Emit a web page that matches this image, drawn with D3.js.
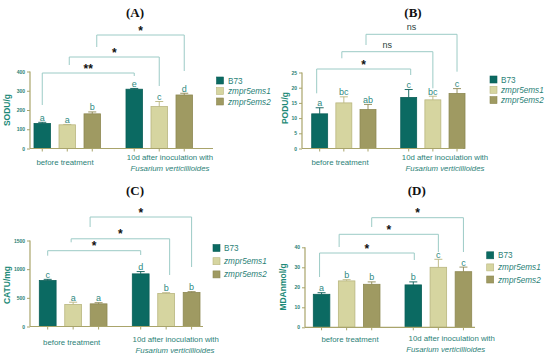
<!DOCTYPE html>
<html>
<head>
<meta charset="utf-8" />
<title></title>
<style>
  body { margin: 0; background: #fff; }
  text { font-family: "Liberation Sans", Arial, sans-serif; }
  .title { font-family: "Liberation Serif", "Times New Roman", serif; font-size: 13px; font-weight: bold; fill: #111; }
  .tick { font-size: 5px; font-weight: bold; fill: #2b7f77; }
  .ylab { font-size: 8.5px; font-weight: bold; fill: #1d8a78; }
  .xlab { font-size: 7.8px; fill: #2b7f77; }
  .leg { font-size: 8.2px; fill: #2b7f77; }
  .let { font-size: 9px; fill: #2f8a82; }
  .sig { font-weight: bold; fill: #111; }
</style>
</head>
<body>
<script src="https://cdn.jsdelivr.net/npm/d3@7"></script>
<script>
var width = 550, height = 357;

// data
var groups = ["before treatment", "10d after inoculation"];
var genotypes = ["B73", "zmpr5ems1", "zmpr5ems2"];

var sodMean = [130, 123, 180, 308, 218, 278];
var sodErr = [6, 2, 10, 4, 26, 9];
var sodLetters = ["a", "a", "b", "e", "c", "d"];
var sodSig = ["**", "*", "*"];
var sodTicks = [0, 100, 200, 300, 400];

var podMean = [11.4, 15.0, 12.8, 16.8, 16.0, 18.1];
var podErr = [2.0, 2.0, 1.7, 2.6, 1.2, 1.6];
var podLetters = ["a", "bc", "ab", "c", "bc", "c"];
var podSig = ["*", "ns", "ns"];
var podTicks = [0, 5, 10, 15, 20, 25];

var catMean = [802, 384, 395, 918, 575, 593];
var catErr = [20, 40, 20, 40, 15, 15];
var catLetters = ["c", "a", "a", "d", "b", "b"];
var catSig = ["*", "*", "*"];
var catTicks = [0, 500, 1000, 1500];

var mdaMean = [16.5, 23.2, 21.5, 21.2, 30.0, 27.8];
var mdaErr = [0.8, 0.6, 1.2, 1.5, 4.0, 2.3];
var mdaLetters = ["a", "b", "b", "b", "c", "c"];
var mdaSig = ["*", "*", "*"];
var mdaTicks = [0, 10, 20, 30, 40];

// comparisons: before vs after for each genotype
var pairs = [[0, 3], [1, 4], [2, 5]];

var fill = { "B73": "#0b6a62", "zmpr5ems1": "#d6d5a0", "zmpr5ems2": "#9f9a62" };
var edge = { "B73": "#0a5f58", "zmpr5ems1": "#b9b67f", "zmpr5ems2": "#8d8852" };
var axisCol = "#a9a46b", brCol = "#9ccbc6";

var panels = [
  { title: "(A)", tx: 135, ty: 16.5, ylabel: "SODU/g", ylx: 7, yly: 110,
    mean: sodMean, err: sodErr, letters: sodLetters, sig: sodSig, ticks: sodTicks,
    ax: 30, axEnd: 213, y0: 148.5, y1: 71.5, range: [34, 192.5], pad: 0.277,
    lvl: [73, 57, 35], lEnd: [105, 65, 47], rEnd: [76, 86, 71], ldx: [0, 2, 4.5], rdx: [0, 0, 0],
    leg: [216.5, 80.5, 10.5, 228],
    xl: [[65, 165], [170, 160], [170, 171]] },
  { title: "(B)", tx: 413, ty: 16.5, ylabel: "PODU/g", ylx: 285, yly: 108,
    mean: podMean, err: podErr, letters: podLetters, sig: podSig, ticks: podTicks,
    ax: 302, axEnd: 463, y0: 148.5, y1: 72.5, range: [311.7, 465], pad: 0.278,
    lvl: [69, 51.7, 34.3], lEnd: [93.3, 58.3, 45], rEnd: [75, 88.3, 71.7], ldx: [-3, -2, -2], rdx: [2, 0, 0],
    leg: [490, 79.5, 10.3, 501],
    xl: [[340, 164.5], [445, 159.5], [445, 171]] },
  { title: "(C)", tx: 135, ty: 194.5, ylabel: "CATU/mg", ylx: 7, yly: 285,
    mean: catMean, err: catErr, letters: catLetters, sig: catSig, ticks: catTicks,
    ax: 30, axEnd: 203, y0: 326.5, y1: 240.5, range: [39.3, 200], pad: 0.272,
    lvl: [250.7, 238.8, 217], lEnd: [255.7, 242.3, 227], rEnd: [255, 275, 267], ldx: [0, -2, -8.5], rdx: [0, 3.5, 0],
    leg: [213, 248, 13.2, 224],
    xl: [[71.7, 345], [175.7, 342], [175, 353]] },
  { title: "(D)", tx: 416.7, ty: 194.5, ylabel: "MDAnmol/g", ylx: 283, yly: 287,
    mean: mdaMean, err: mdaErr, letters: mdaLetters, sig: mdaSig, ticks: mdaTicks,
    ax: 305, axEnd: 475, y0: 327.3, y1: 247.3, range: [313.3, 471.7], pad: 0.273,
    lvl: [253, 234.3, 217.7], lEnd: [277, 247, 227], rEnd: [260, 252, 252], ldx: [-2, -7.5, 0], rdx: [1, 0, 0],
    leg: [486.7, 255.3, 12.1, 498],
    xl: [[350, 341.5], [451.7, 340.5], [445.7, 351.5]] }
];

var svg = d3.select("body").append("svg")
    .attr("width", width)
    .attr("height", height);

panels.forEach(function(p, pi) {
  var g = svg.append("g");
  var second = pi == 2 || pi == 3;
  var afterLabel = second ? "10d after inoculation  with" : "10d after inoculation with";

  var x0 = d3.scaleBand().domain(groups).range(p.range).paddingInner(p.pad).paddingOuter(0);
  var x1 = d3.scaleBand().domain(genotypes).range([0, x0.bandwidth()]).paddingInner(0.34).paddingOuter(0);
  var y = d3.scaleLinear().domain([0, d3.max(p.ticks)]).range([p.y0, p.y1]);

  var rows = p.mean.map(function(v, i) {
    return { g: groups[Math.floor(i / 3)], k: genotypes[i % 3], v: v, e: p.err[i], l: p.letters[i] };
  });
  function cx(d) { return x0(d.g) + x1(d.k) + x1.bandwidth() / 2; }

  // title
  g.append("text").attr("class", "title").attr("x", p.tx).attr("y", p.ty)
    .attr("text-anchor", "middle").text(p.title);

  // y axis
  var yAxis = d3.axisLeft(y).tickValues(p.ticks).tickFormat(d3.format("d")).tickSize(3).tickPadding(2);
  var ya = g.append("g").attr("transform", "translate(" + p.ax + ",0)").call(yAxis);
  ya.select(".domain").attr("stroke", axisCol).attr("stroke-width", 1.2).attr("d", "M0," + p.y0 + "V" + p.y1);
  ya.selectAll(".tick line").attr("stroke", axisCol).attr("stroke-width", 1);
  ya.selectAll(".tick text").attr("class", "tick").attr("fill", null).attr("font-size", null).attr("font-family", null);
  ya.attr("font-size", null).attr("font-family", null);

  // bars
  g.selectAll(".bar").data(rows).enter().append("rect")
    .attr("x", function(d) { return x0(d.g) + x1(d.k); })
    .attr("y", function(d) { return y(d.v); })
    .attr("width", x1.bandwidth())
    .attr("height", function(d) { return y(0) - y(d.v); })
    .attr("fill", function(d) { return fill[d.k]; })
    .attr("stroke", function(d) { return edge[d.k]; })
    .attr("stroke-width", 0.8);

  // error bars (upper half)
  var eb = g.selectAll(".eb").data(rows).enter().append("g")
    .attr("stroke", function(d) { return edge[d.k]; }).attr("stroke-width", 0.9);
  eb.append("line").attr("x1", cx).attr("x2", cx)
    .attr("y1", function(d) { return y(d.v); }).attr("y2", function(d) { return y(d.v + d.e); });
  eb.append("line").attr("x1", function(d) { return cx(d) - 4; }).attr("x2", function(d) { return cx(d) + 4; })
    .attr("y1", function(d) { return y(d.v + d.e); }).attr("y2", function(d) { return y(d.v + d.e); });

  // letters
  g.selectAll(".let").data(rows).enter().append("text").attr("class", "let")
    .attr("x", cx).attr("y", function(d) { return y(d.v + d.e) - 1.5; })
    .attr("text-anchor", "middle").text(function(d) { return d.l; });

  // x axis
  g.append("line").attr("x1", p.ax).attr("x2", p.axEnd).attr("y1", p.y0).attr("y2", p.y0)
    .attr("stroke", axisCol).attr("stroke-width", 1.2);
  g.selectAll(".xt").data(rows).enter().append("line")
    .attr("x1", cx).attr("x2", cx).attr("y1", p.y0).attr("y2", p.y0 + 3)
    .attr("stroke", axisCol).attr("stroke-width", 1);

  // x labels
  g.append("text").attr("class", "xlab").attr("x", p.xl[0][0]).attr("y", p.xl[0][1])
    .attr("text-anchor", "middle").text(groups[0]);
  g.append("text").attr("class", "xlab").attr("x", p.xl[1][0]).attr("y", p.xl[1][1])
    .attr("text-anchor", "middle").text(afterLabel);
  g.append("text").attr("class", "xlab").attr("x", p.xl[2][0]).attr("y", p.xl[2][1])
    .attr("text-anchor", "middle").style("font-style", "italic").text("Fusarium verticillioides");

  // y label
  g.append("text").attr("class", "ylab")
    .attr("transform", "translate(" + (p.ylx + 3) + "," + p.yly + ") rotate(-90)")
    .attr("text-anchor", "middle").text(p.ylabel);

  // significance brackets
  pairs.forEach(function(pr, j) {
    var xa = cx(rows[pr[0]]) + p.ldx[j], xb = cx(rows[pr[1]]) + p.rdx[j];
    g.append("path")
      .attr("d", "M" + xa + "," + p.lEnd[j] + "V" + p.lvl[j] + "H" + xb + "V" + p.rEnd[j])
      .attr("fill", "none").attr("stroke", brCol).attr("stroke-width", 1);
    var s = p.sig[j];
    var isNs = s == "ns";
    g.append("text").attr("class", "sig")
      .attr("x", (xa + xb) / 2).attr("y", p.lvl[j] - (isNs ? 4 : 0.5))
      .attr("text-anchor", "middle")
      .style("font-size", isNs ? "9px" : "12px")
      .style("font-weight", isNs ? "normal" : "bold")
      .style("fill", isNs ? "#2b3f3d" : "#111")
      .text(s);
  });

  // legend
  genotypes.forEach(function(k, i) {
    var ly = p.leg[1] + i * p.leg[2];
    g.append("rect").attr("x", p.leg[0]).attr("y", ly - 3.5).attr("width", 7).attr("height", 7)
      .attr("fill", fill[k]).attr("stroke", edge[k]).attr("stroke-width", 0.6);
    g.append("text").attr("class", "leg").attr("x", p.leg[3]).attr("y", ly + 3)
      .style("font-style", i == 0 ? "normal" : "italic").text(k);
  });
});
</script>
</body>
</html>
